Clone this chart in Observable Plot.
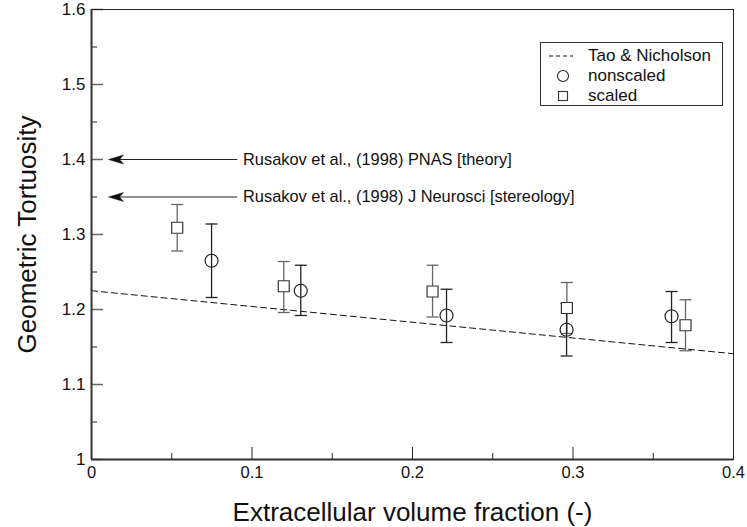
<!DOCTYPE html>
<html>
<head>
<meta charset="utf-8">
<script src="https://cdn.jsdelivr.net/npm/d3@7"></script>
<script src="https://cdn.jsdelivr.net/npm/@observablehq/plot@0.6"></script>
<style>
  html, body { margin: 0; padding: 0; background: #fff; }
  #wrap { position: relative; width: 747px; height: 527px; font-family: "Liberation Sans", Arial, sans-serif; }
  #legend { position: absolute; left: 540px; top: 42px; width: 183px; height: 64px; border: 1px solid #333; background: #fff; box-sizing: border-box; }
  .row { position: absolute; left: 0; height: 20px; font-size: 17px; color: #111; }
  .row svg { position: absolute; left: 6px; top: 0; }
  .row span { position: absolute; left: 47px; white-space: nowrap; line-height: 20px; }
</style>
</head>
<body>
<div id="wrap"></div>
<script>
// ---- data ----
const xMajor = [0, 0.1, 0.2, 0.3, 0.4];
const xTickLabels = ["0", "0.1", "0.2", "0.3", "0.4"];
const xMinor = [0.05, 0.15, 0.25, 0.35];
const yMajor = [1, 1.1, 1.2, 1.3, 1.4, 1.5, 1.6];
const yTickLabels = ["1", "1.1", "1.2", "1.3", "1.4", "1.5", "1.6"];
const yMinor = [1.05, 1.15, 1.25, 1.35, 1.45, 1.55];

const scaledX  = [0.0534, 0.1198, 0.2125, 0.2962, 0.3701];
const scaledY  = [1.309, 1.231, 1.224, 1.202, 1.179];
const scaledLo = [1.278, 1.196, 1.190, 1.168, 1.145];
const scaledHi = [1.340, 1.264, 1.259, 1.236, 1.213];

const nonscaledX  = [0.0748, 0.1304, 0.2212, 0.2960, 0.3614];
const nonscaledY  = [1.265, 1.225, 1.192, 1.173, 1.191];
const nonscaledLo = [1.216, 1.192, 1.156, 1.138, 1.156];
const nonscaledHi = [1.314, 1.259, 1.227, 1.208, 1.224];

const taoX = [0, 0.4];
const taoY = [1.225, 1.141];

const refY = [1.4, 1.35];
const refLabels = ["Rusakov et al., (1998) PNAS [theory]", "Rusakov et al., (1998) J Neurosci [stereology]"];
const refArrowTip = 0.0106;
const refArrowTail = 0.0908;
const refTextX = 0.0944;

const xLabel = "Extracellular volume fraction (-)";
const yLabel = "Geometric Tortuosity";

// ---- tables ----
const scaled = scaledX.map((x, i) => ({x, y: scaledY[i], lo: scaledLo[i], hi: scaledHi[i]}));
const nonscaled = nonscaledX.map((x, i) => ({x, y: nonscaledY[i], lo: nonscaledLo[i], hi: nonscaledHi[i]}));
const tao = taoX.map((x, i) => ({x, y: taoY[i]}));
const refs = refY.map((y, i) => ({y, label: refLabels[i]}));

const capSymbol = {draw(ctx) { ctx.moveTo(-6, 0); ctx.lineTo(6, 0); }};
const headSymbol = {draw(ctx) { ctx.moveTo(0, 0); ctx.lineTo(15, -4.5); ctx.lineTo(11, 0); ctx.lineTo(15, 4.5); ctx.closePath(); }};

const W = 747, H = 527, ML = 91, MR = 14, MT = 9, MB = 68;
const FW = W - ML - MR, FH = H - MT - MB;

function errorMarks(data, color) {
  return [
    Plot.ruleX(data, {x: "x", y1: "lo", y2: "hi", stroke: color, strokeWidth: 1.3}),
    Plot.dot(data, {x: "x", y: "lo", symbol: capSymbol, r: 1, stroke: color, strokeWidth: 1.3, fill: "none"}),
    Plot.dot(data, {x: "x", y: "hi", symbol: capSymbol, r: 1, stroke: color, strokeWidth: 1.3, fill: "none"})
  ];
}

const chart = Plot.plot({
  width: W, height: H,
  marginLeft: ML, marginRight: MR, marginTop: MT, marginBottom: MB,
  style: {fontFamily: "'Liberation Sans', Arial, sans-serif", fontSize: "16px", color: "#111", background: "#fff"},
  x: {domain: [0, 0.4]},
  y: {domain: [1, 1.6]},
  marks: [
    Plot.axisX(xMajor, {tickSize: 0, tickPadding: 7, tickFormat: d => xTickLabels[xMajor.indexOf(d)], label: null, fontSize: 16.5}),
    Plot.axisY(yMajor, {tickSize: 0, tickPadding: 6, tickFormat: d => yTickLabels[yMajor.indexOf(d)], label: null, fontSize: 17}),
    Plot.tickY(yMajor, {y: d => d, insetRight: FW - 12, stroke: "#666", strokeWidth: 1.5}),
    Plot.tickY(yMinor, {y: d => d, insetRight: FW - 6, stroke: "#222", strokeWidth: 1}),
    Plot.tickX(xMajor, {x: d => d, insetTop: FH - 12, stroke: "#222", strokeWidth: 1}),
    Plot.tickX(xMinor, {x: d => d, insetTop: FH - 6, stroke: "#222", strokeWidth: 1}),
    Plot.line(tao, {x: "x", y: "y", stroke: "#111", strokeWidth: 1, strokeDasharray: "6,4"}),
    ...errorMarks(scaled, "#666"),
    ...errorMarks(nonscaled, "#222"),
    Plot.dot(scaled, {x: "x", y: "y", symbol: "square", r: 6.2, stroke: "#333", strokeWidth: 1.2, fill: "#fff"}),
    Plot.dot(nonscaled, {x: "x", y: "y", symbol: "circle", r: 6.5, stroke: "#222", strokeWidth: 1.2, fill: "none"}),
    Plot.link(refs, {x1: refArrowTail, x2: refArrowTip + 0.004, y1: "y", y2: "y", stroke: "#222", strokeWidth: 1}),
    Plot.dot(refs, {x: refArrowTip, y: "y", symbol: headSymbol, r: 1, fill: "#111", stroke: "#111", strokeWidth: 0.5}),
    Plot.text(refs, {x: refTextX, y: "y", text: "label", textAnchor: "start", fontSize: 16.4, fill: "#111"}),
    Plot.frame({stroke: "#222", strokeWidth: 1}),
    Plot.ruleX([0], {stroke: "#333", strokeWidth: 2}),
    Plot.ruleY([1], {stroke: "#333", strokeWidth: 2}),
    Plot.text([xLabel], {frameAnchor: "bottom", dy: 53, fontSize: 26, fill: "#111", textAnchor: "middle", lineAnchor: "middle"}),
    Plot.text([yLabel], {frameAnchor: "left", dx: -64, rotate: -90, fontSize: 26, fill: "#111", textAnchor: "middle", lineAnchor: "middle"})
  ]
});

const wrap = document.getElementById("wrap");
wrap.appendChild(chart);
chart.style.position = "absolute";
chart.style.left = "0px";
chart.style.top = "0px";

// legend
const legend = document.createElement("div");
legend.id = "legend";
legend.innerHTML = `
  <div class="row" style="top:3px"><svg width="30" height="20"><line x1="2" y1="10" x2="26" y2="10" stroke="#111" stroke-width="1" stroke-dasharray="4,3"/></svg><span>Tao &amp; Nicholson</span></div>
  <div class="row" style="top:23px"><svg width="30" height="20"><circle cx="16" cy="10" r="5.5" fill="none" stroke="#222" stroke-width="1.1"/></svg><span>nonscaled</span></div>
  <div class="row" style="top:43px"><svg width="30" height="20"><rect x="11.5" y="5.5" width="9" height="9" fill="none" stroke="#333" stroke-width="1.1"/></svg><span>scaled</span></div>`;
wrap.appendChild(legend);
</script>
</body>
</html>
